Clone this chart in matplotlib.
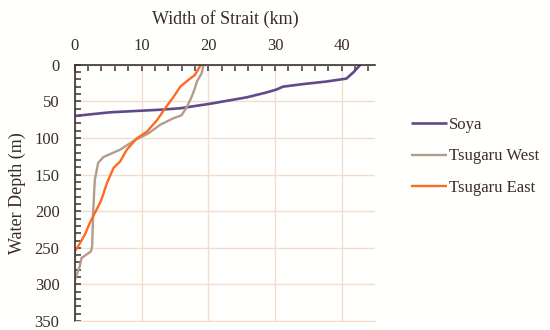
import matplotlib
matplotlib.use('Agg')
import matplotlib.pyplot as plt
from matplotlib.ticker import MultipleLocator

# width of strait (km) vs water depth (m)
soya_km = [42.8, 41.8, 40.7, 37.7, 34.2, 31.2, 30.2, 28.7, 25.8, 20.5, 15.8, 12.8, 5.3, 0.0]
soya_depth = [0, 10, 19, 23, 26.5, 30, 34, 38, 44.5, 53, 59.5, 61.5, 65, 70]

west_km = [19.3, 19.0, 18.3, 18.0, 17.5, 16.8, 16.0, 14.8, 12.8, 11.0, 9.0, 6.8, 4.3, 3.5,
           3.0, 2.85, 2.75, 2.6, 2.4, 1.0, 0.75, 0.0]
west_depth = [0, 12, 23, 32, 44, 57.5, 69, 73, 82, 94, 103, 116, 126, 134,
              157, 184, 203, 248, 255, 264, 275, 294]

east_km = [18.9, 18.0, 17.0, 15.8, 14.8, 13.5, 12.3, 10.8, 9.3, 7.8, 6.8, 5.8, 4.8, 4.0,
           3.75, 2.75, 2.25, 1.5, 0.5, 0.0, 0.0]
east_depth = [0, 14, 21, 30, 44, 60, 76, 91.5, 100.5, 116, 132, 141, 162, 184,
              189, 207, 216, 232, 248, 255, 263]

labels = ['Soya', 'Tsugaru West', 'Tsugaru East']
colors = ['#604a8c', '#b39c8c', '#ff6a21']

txt = '#3a2c28'
grid = '#f2dcce'
plt.rcParams['font.family'] = ['Liberation Serif', 'DejaVu Serif']
plt.rcParams['text.color'] = txt

fig = plt.figure(figsize=(5.5, 3.3), dpi=100)
fig.patch.set_facecolor('#fffffd')
ax = fig.add_axes([0.136, 0.027, 0.546, 0.777])
ax.set_facecolor('#fffffd')

ax.plot(soya_km, soya_depth, color=colors[0], lw=1.9, label=labels[0], solid_capstyle='butt')
ax.plot(west_km, west_depth, color=colors[1], lw=1.7, label=labels[1], solid_capstyle='butt')
ax.plot(east_km, east_depth, color=colors[2], lw=1.7, label=labels[2], solid_capstyle='butt')

ax.set_xlim(0, 45)
ax.set_ylim(350, 0)
ax.xaxis.tick_top()
ax.xaxis.set_label_position('top')
ax.xaxis.set_major_locator(MultipleLocator(10))
ax.xaxis.set_minor_locator(MultipleLocator(2))
ax.yaxis.set_major_locator(MultipleLocator(50))
ax.yaxis.set_minor_locator(MultipleLocator(10))

ax.grid(True, which='major', color=grid, lw=1.0)
ax.set_axisbelow(True)
ax.spines['right'].set_visible(False)
ax.spines['bottom'].set_color(grid)
for s in ['top', 'left']:
    ax.spines[s].set_color('#3a3330')
    ax.spines[s].set_linewidth(1.2)

ax.tick_params(which='both', direction='in', length=4, width=1.1, color='#3a3330',
               labelsize=12, labelcolor=txt)
ax.tick_params(axis='x', which='both', top=True, bottom=False, pad=8)
ax.tick_params(axis='y', which='both', left=True, right=False, pad=11)

ax.set_xlabel('Width of Strait (km)', fontsize=13, labelpad=10, color=txt)
ax.set_ylabel('Water Depth (m)', fontsize=13, labelpad=6, color=txt)

fig.legend(loc='upper left', bbox_to_anchor=(0.72, 0.692), frameon=False,
           fontsize=12, handlelength=2.15, handletextpad=0.15, labelspacing=0.95,
           labelcolor=txt)

fig.savefig('out.png', dpi=100, facecolor=fig.get_facecolor())
